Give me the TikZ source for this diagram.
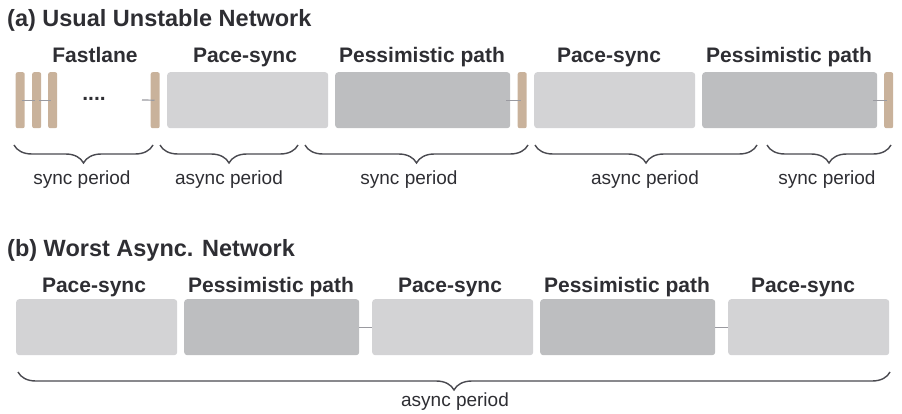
\documentclass[tikz,border=0pt]{standalone}
\usepackage{fontspec}
\setmainfont{Liberation Sans}
\usetikzlibrary{decorations.pathreplacing}
\definecolor{tan}{HTML}{C9B29B}
\definecolor{lightbox}{HTML}{D3D3D5}
\definecolor{darkbox}{HTML}{BDBEC0}
\definecolor{txt}{HTML}{2E2E33}
\definecolor{bracec}{HTML}{4A4A50}
\definecolor{linkc}{HTML}{9A9AA0}
\tikzset{
  title/.style={anchor=base west, inner sep=0, font=\fontsize{23.5}{26}\selectfont\bfseries, text=txt},
  phase/.style={anchor=base, inner sep=0, font=\fontsize{21}{24}\selectfont\bfseries, text=txt},
  period/.style={anchor=base, inner sep=0, font=\fontsize{19}{22}\selectfont, text=txt},
  bar/.style={anchor=north west, fill=tan, rounded corners=2pt, inner sep=0, minimum width=9pt, minimum height=56pt},
  pacebox/.style={anchor=north west, fill=lightbox, rounded corners=3pt, inner sep=0, minimum width=161pt, minimum height=56pt},
  pessbox/.style={anchor=north west, fill=darkbox, rounded corners=3pt, inner sep=0, minimum width=175pt, minimum height=56pt},
  link/.style={draw=linkc, line width=1.2pt},
  bracepath/.style={draw=bracec, line width=1.4pt, decorate, decoration={brace, mirror, amplitude=18pt}},
}
\begin{document}
\begin{tikzpicture}[x=1pt, y=-1pt]
\useasboundingbox (0,0) rectangle (902,414);
% ---------- (a) ----------
\node[title] (ta) at (7,27) {(a) Usual Unstable Network};
\node[phase] (lf) at (95,63) {Fastlane};
\node[phase] (lp1) at (245,63) {Pace-sync};
\node[phase] (lq1) at (422,63) {Pessimistic path};
\node[phase] (lp2) at (609,63) {Pace-sync};
\node[phase] (lq2) at (789,63) {Pessimistic path};

\node[bar] (b1) at (15.5,72) {};
\node[bar] (b2) at (32,72) {};
\node[bar] (b3) at (48,72) {};
\node[phase] (dots) at (94,101) {....};
\node[bar] (b4) at (150.5,72) {};
\node[pacebox] (p1) at (167,72) {};
\node[pessbox] (q1) at (335,72) {};
\node[bar] (b5) at (517.5,72) {};
\node[pacebox] (p2) at (534,72) {};
\node[pessbox] (q2) at (702,72) {};
\node[bar] (b6) at (884,72) {};

\draw[link] ([xshift=-3pt]b1.east) -- ([xshift=3pt]b2.west);
\draw[link] ([xshift=-2pt]b2.east) -- ([xshift=3pt]b3.west);
\coordinate (fl) at (142,100);
\draw[link] (fl) -- ([xshift=4pt]b4.west);
\draw[link] ([xshift=-4pt]q1.east) -- ([xshift=3pt]b5.west);
\draw[link] ([xshift=-4pt]q2.east) -- ([xshift=3pt]b6.west);

\coordinate (a1l) at (14,145);  \coordinate (a1r) at (153,145);
\coordinate (a2l) at (160,145); \coordinate (a2r) at (298,145);
\coordinate (a3l) at (305,145); \coordinate (a3r) at (528,145);
\coordinate (a4l) at (535,145); \coordinate (a4r) at (757,145);
\coordinate (a5l) at (767,145); \coordinate (a5r) at (891,145);
\draw[bracepath] (a1l) -- (a1r);
\draw[bracepath] (a2l) -- (a2r);
\draw[bracepath] (a3l) -- (a3r);
\draw[bracepath] (a4l) -- (a4r);
\draw[bracepath] (a5l) -- (a5r);
\node[period] (s1) at (82,185) {sync period};
\node[period] (s2) at (229,185) {async period};
\node[period] (s3) at (409,185) {sync period};
\node[period] (s4) at (645,185) {async period};
\node[period] (s5) at (827,185) {sync period};

% ---------- (b) ----------
\node[title] (tb) at (7,256) {(b) Worst Async. Network};
\node[phase] (m1) at (94,292) {Pace-sync};
\node[phase] (m2) at (271,292) {Pessimistic path};
\node[phase] (m3) at (450,292) {Pace-sync};
\node[phase] (m4) at (627,292) {Pessimistic path};
\node[phase] (m5) at (803,292) {Pace-sync};

\node[pacebox] (r1) at (16,299) {};
\node[pessbox] (r2) at (184,299) {};
\node[pacebox] (r3) at (372,299) {};
\node[pessbox] (r4) at (540,299) {};
\node[pacebox] (r5) at (728,299) {};
\draw[link] (r2.east) -- (r3.west);
\draw[link] (r4.east) -- (r5.west);

\coordinate (bl) at (18,372); \coordinate (br) at (890,372);
\draw[bracepath] (bl) -- (br);
\node[period] (sb) at (455,406) {async period};
\end{tikzpicture}
\end{document}
